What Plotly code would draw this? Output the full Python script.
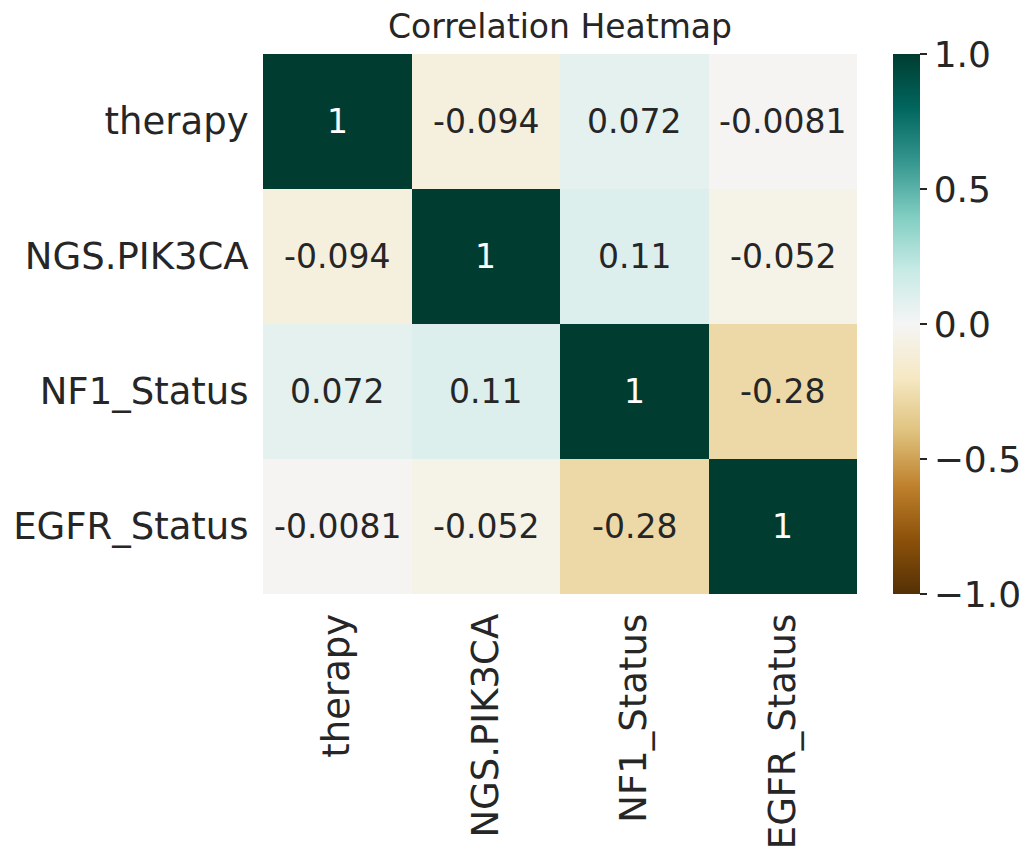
import plotly.graph_objects as go

labels = ["therapy", "NGS.PIK3CA", "NF1_Status", "EGFR_Status"]
row_therapy = [1.0, -0.094, 0.072, -0.0081]
row_pik3ca = [-0.094, 1.0, 0.11, -0.052]
row_nf1 = [0.072, 0.11, 1.0, -0.28]
row_egfr = [-0.0081, -0.052, -0.28, 1.0]
corr = [row_therapy, row_pik3ca, row_nf1, row_egfr]

cbar_vals = [1.0, 0.5, 0.0, -0.5, -1.0]
cbar_text = ["1.0", "0.5", "0.0", "\u22120.5", "\u22121.0"]

brbg = [
    [0.0, "rgb(84,48,5)"], [0.1, "rgb(140,81,10)"], [0.2, "rgb(191,129,45)"],
    [0.3, "rgb(223,194,125)"], [0.4, "rgb(246,232,195)"], [0.5, "rgb(245,245,245)"],
    [0.6, "rgb(199,234,229)"], [0.7, "rgb(128,205,193)"], [0.8, "rgb(53,151,143)"],
    [0.9, "rgb(1,102,94)"], [1.0, "rgb(0,60,48)"],
]

def fmt(v):
    if v == 1.0:
        return "1"
    return "{:.2g}".format(v)

fig = go.Figure(go.Heatmap(
    z=corr, x=labels, y=labels, zmin=-1, zmax=1, colorscale=brbg,
    colorbar=dict(
        x=(893 - 263) / 594, xanchor="left", xpad=0, ypad=0,
        y=0.5, yanchor="middle", len=1, lenmode="fraction",
        thickness=27, outlinewidth=0,
        tickvals=cbar_vals, ticktext=cbar_text, ticks="outside", ticklen=7,
        tickcolor="#262626", tickwidth=1.5,
        tickfont=dict(size=36, color="#262626", family="DejaVu Sans"),
    ),
    hoverinfo="skip",
))

for i, row in enumerate(corr):
    for j, v in enumerate(row):
        fig.add_annotation(
            x=labels[j], y=labels[i], text=fmt(v), showarrow=False,
            font=dict(size=33, family="DejaVu Sans",
                      color="white" if abs(v) > 0.6 else "#262626"),
        )

# page body has an 8px margin, so the figure is 8px smaller and margins shifted
W, H = 1019, 841
fig.update_layout(
    width=W, height=H,
    margin=dict(l=255, r=170, t=46, b=255, autoexpand=False),
    plot_bgcolor="white", paper_bgcolor="white",
    font=dict(family="DejaVu Sans", color="#262626"),
    title=dict(text="Correlation Heatmap", x=(255 + 849) / 2 / W, xanchor="center",
               y=1 - 18 / H, yanchor="middle",
               font=dict(size=33, color="#262626", family="DejaVu Sans")),
    xaxis=dict(tickangle=-90, ticks="outside", ticklen=4, tickcolor="rgba(0,0,0,0)",
               tickfont=dict(size=37, color="#262626"), showgrid=False, zeroline=False),
    yaxis=dict(autorange="reversed", ticks="outside", ticklen=6, tickcolor="rgba(0,0,0,0)",
               tickfont=dict(size=37, color="#262626"), showgrid=False, zeroline=False),
)

fig.write_html("out.html")
